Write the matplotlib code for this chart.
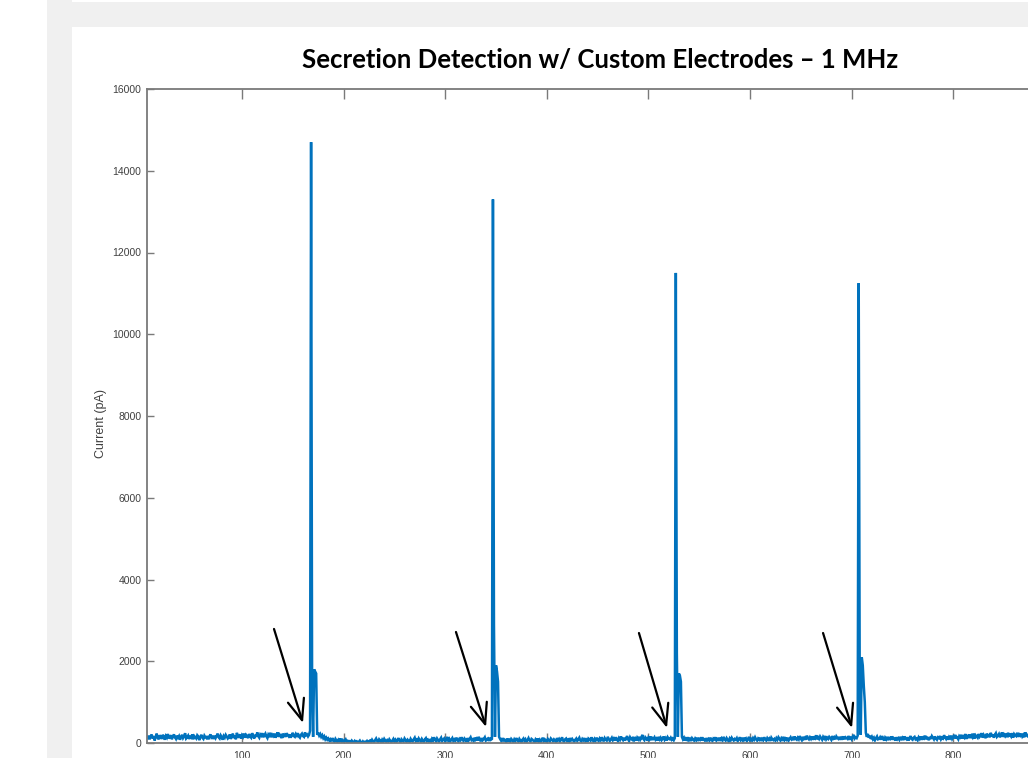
import numpy as np
import matplotlib
matplotlib.use("Agg")
import matplotlib.pyplot as plt
from matplotlib.patches import Rectangle

# ---------------- data ----------------
pre1_start = 7
current_pre1 = [
    120,180,90,150,210,110,170,60,140,230,130,90,190,150,100,200,160,80,170,130,
    220,110,150,190,90,160,210,140,100,180,130,170,80,150,200,120,160,240,110,140,
    180,100,150,130,210,90,170,140,110,190,160,70,150,200,130,100,180,140,120,170,
    90,160,210,130,150,100,180,120,170,230,140,110,190,150,80,170,130,200,160,110,
    140,210,100,160,230,120,180,90,250,130,170,210,110,190,150,230,130,200,170,120,
    220,160,130,240,180,110,200,150,260,170,130,210,180,240,140,190,230,160,120,210,
    180,250,140,200,170,230,130,190,260,150,210,180,120,230,170,200,150,240,190,160,
    210,130,190,250,170,150,220,180,240,160,130,200,230,170,150,260,190,210,160,200,
]
pulse1_start = 167
pulse1 = [300,14700,1400,150,1800,1750,1700,200,250,180,220,150,190,120,160,90,130,80,110,60]

mid1_start = 187
current_mid1 = [
    90,40,120,70,30,100,60,20,80,50,110,40,70,20,60,90,30,50,10,40,
    20,60,30,10,50,20,40,10,30,60,20,0,40,10,30,20,50,10,40,60,
    30,80,40,20,70,110,50,30,90,60,20,80,40,100,60,30,70,40,90,50,
    20,60,100,40,80,30,70,120,50,20,90,60,40,110,70,30,80,50,20,100,
    60,40,90,130,50,80,30,110,70,40,100,60,20,90,120,50,80,40,70,30,
    100,60,140,80,40,110,70,30,90,130,50,80,110,40,70,150,60,100,40,80,
    120,50,90,60,130,80,40,100,70,140,90,50,110,80,30,120,60,100,140,70,
    90,50,130,80,110,60,150,90,40,120,70,100,140,60,90,110,50,130,80,100,
]
pulse2_start = 347
pulse2 = [13300,2900,150,1900,1750,1500,150,100,60,120,40,90,70,30,110,60,80,40,100,70]

mid2_start = 367
current_mid2 = [
    30,90,50,120,70,40,100,60,20,80,110,50,90,30,70,120,60,40,100,80,
    50,20,90,60,110,40,80,30,70,130,50,90,60,20,100,70,40,110,80,50,
    90,60,30,120,70,100,40,80,140,60,30,90,110,50,80,40,120,70,100,60,
    30,80,110,50,90,130,60,40,100,70,120,50,80,30,110,90,60,140,70,40,
    100,60,130,80,50,110,70,140,90,40,120,80,60,150,100,50,90,130,70,110,
    60,140,90,50,120,80,160,100,70,130,60,110,170,90,50,140,100,80,150,70,
    110,60,130,90,150,80,120,200,100,70,140,110,60,130,90,160,70,120,100,140,
    80,110,60,150,90,130,70,100,160,80,120,60,140,100,90,130,80,110,70,120,
]
pulse3_start = 527
pulse3 = [11500,2200,150,1700,1650,1500,150,90,130,60,110,80,140,70,100,50,120,90,60,110]

mid3_start = 547
current_mid3 = [
    70,130,50,100,80,140,60,110,90,40,120,70,100,60,130,80,50,110,90,140,
    60,100,80,130,50,110,70,150,90,60,120,80,40,110,70,130,90,60,100,80,
    120,50,90,140,70,100,60,130,80,110,50,90,150,70,100,60,120,80,140,90,
    60,110,80,130,50,100,70,140,90,60,120,80,110,50,130,90,70,100,60,120,
    80,140,100,60,120,90,150,70,110,80,130,60,100,140,90,120,70,160,100,80,
    130,90,170,110,70,150,100,130,80,180,120,90,140,100,160,80,130,110,190,90,
    140,100,160,120,80,150,110,170,90,130,100,150,120,80,170,110,140,90,160,120,
    100,150,80,130,110,160,90,140,120,100,170,110,130,90,150,200,110,140,120,180,
]
pulse4_start = 707
pulse4 = [11250,1500,200,2100,1900,1400,1000,250,150,220,130,180,100,150,90,130,70,120,160,90]

post_start = 727
current_post = [
    100,140,80,170,110,60,130,90,150,70,120,100,160,80,130,110,60,140,90,120,
    80,150,100,130,70,160,110,90,140,60,120,170,100,80,130,150,90,110,70,140,
    100,160,80,130,110,180,90,140,120,70,150,100,170,130,90,160,110,80,140,120,
    170,90,130,110,190,140,100,160,80,150,120,180,100,140,200,110,160,130,90,170,
    140,200,110,160,130,220,100,170,150,210,120,180,140,230,110,190,160,130,220,150,
    180,240,130,200,160,120,230,170,190,140,250,160,210,130,200,240,150,180,220,140,
    190,260,150,210,170,230,140,250,180,200,160,240,130,220,190,170,250,150,210,180,
    230,160,200,140,260,190,170,220,150,240,180,200,160,230,
]

segments = [
    (pre1_start, current_pre1), (pulse1_start, pulse1),
    (mid1_start, current_mid1), (pulse2_start, pulse2),
    (mid2_start, current_mid2), (pulse3_start, pulse3),
    (mid3_start, current_mid3), (pulse4_start, pulse4),
    (post_start, current_post),
]

# arrows: (tail_x, tail_y, head_x, head_y) in data units
arrow_tails_x = [131.5, 310.6, 490.7, 671.9]
arrow_tails_y = [2790, 2716, 2691, 2691]
arrow_heads_x = [160.0, 340.2, 518.3, 700.4]
arrow_heads_y = [489, 391, 367, 367]

y_ticks = [0, 2000, 4000, 6000, 8000, 10000, 12000, 14000, 16000]
x_ticks = [100, 200, 300, 400, 500, 600, 700, 800, 900]

title_text = "Secretion Detection w/ Custom Electrodes \u2013 1 MHz"
ylabel_text = "Current (pA)"

# ---------------- build series ----------------
xs, ys = [], []
for start, vals in segments:
    xs.append(np.arange(start, start + len(vals)))
    ys.append(np.array(vals, dtype=float))
x = np.concatenate(xs)
y = np.concatenate(ys)

# ---------------- figure ----------------
W, H = 1028, 758
fig = plt.figure(figsize=(W / 100, H / 100), dpi=100)
fig.patch.set_facecolor("white")

def fig_rect(x0, y0, x1, y1, color):
    # pixel coords with origin top-left
    r = Rectangle((x0 / W, 1 - y1 / H), (x1 - x0) / W, (y1 - y0) / H,
                  transform=fig.transFigure, facecolor=color,
                  edgecolor="none", zorder=-10)
    fig.add_artist(r)

fig_rect(47, 0, W, H, "#f0f0f0")
fig_rect(72, 27, W, H, "white")
fig_rect(72, 0, W, 2, "white")

# axes geometry in pixels
ax_left, ax_top, ax_bottom = 147, 89, 743
px_per_unit = 1.016
x_min, x_max = 6.5, 1000
ax_right = ax_left + (x_max - x_min) * px_per_unit
ax = fig.add_axes([ax_left / W, 1 - ax_bottom / H,
                   (ax_right - ax_left) / W, (ax_bottom - ax_top) / H])
ax.set_facecolor("white")

ax.plot(x, y, color="#0072BD", linewidth=1.8, solid_joinstyle="miter")

ax.set_xlim(x_min, x_max)
ax.set_ylim(0, 16000)
ax.set_yticks(y_ticks)
ax.set_xticks(x_ticks)
ax.set_yticklabels([str(v) for v in y_ticks])
ax.set_xticklabels([str(v) for v in x_ticks])

spine_color = "#7a7a7a"
for s in ax.spines.values():
    s.set_color(spine_color)
    s.set_linewidth(1.3)

ax.tick_params(axis="y", direction="in", length=5, width=1.0, color=spine_color,
               labelsize=7.5, labelcolor="#404040", pad=4, right=True)
ax.tick_params(axis="x", direction="in", length=7, width=1.0, color=spine_color,
               labelsize=7.5, labelcolor="#404040", pad=6, top=True)
for lbl in ax.get_xticklabels() + ax.get_yticklabels():
    lbl.set_fontfamily("Liberation Sans")

for tx, ty, hx, hy in zip(arrow_tails_x, arrow_tails_y, arrow_heads_x, arrow_heads_y):
    ax.annotate("", xy=(hx, hy), xytext=(tx, ty),
                arrowprops=dict(arrowstyle="->,head_length=1.5,head_width=0.6",
                                color="black", linewidth=1.6,
                                shrinkA=0, shrinkB=0))

fig.text(600 / W, 1 - 60 / H, title_text, ha="center", va="center",
         fontsize=18.5, fontweight="bold", family="Lato", color="black")
fig.text(101 / W, 1 - 424 / H, ylabel_text, ha="center", va="center",
         rotation=90, fontsize=9, family="Liberation Sans", color="#404040")

fig.savefig("out.png", dpi=100, facecolor=fig.get_facecolor())
